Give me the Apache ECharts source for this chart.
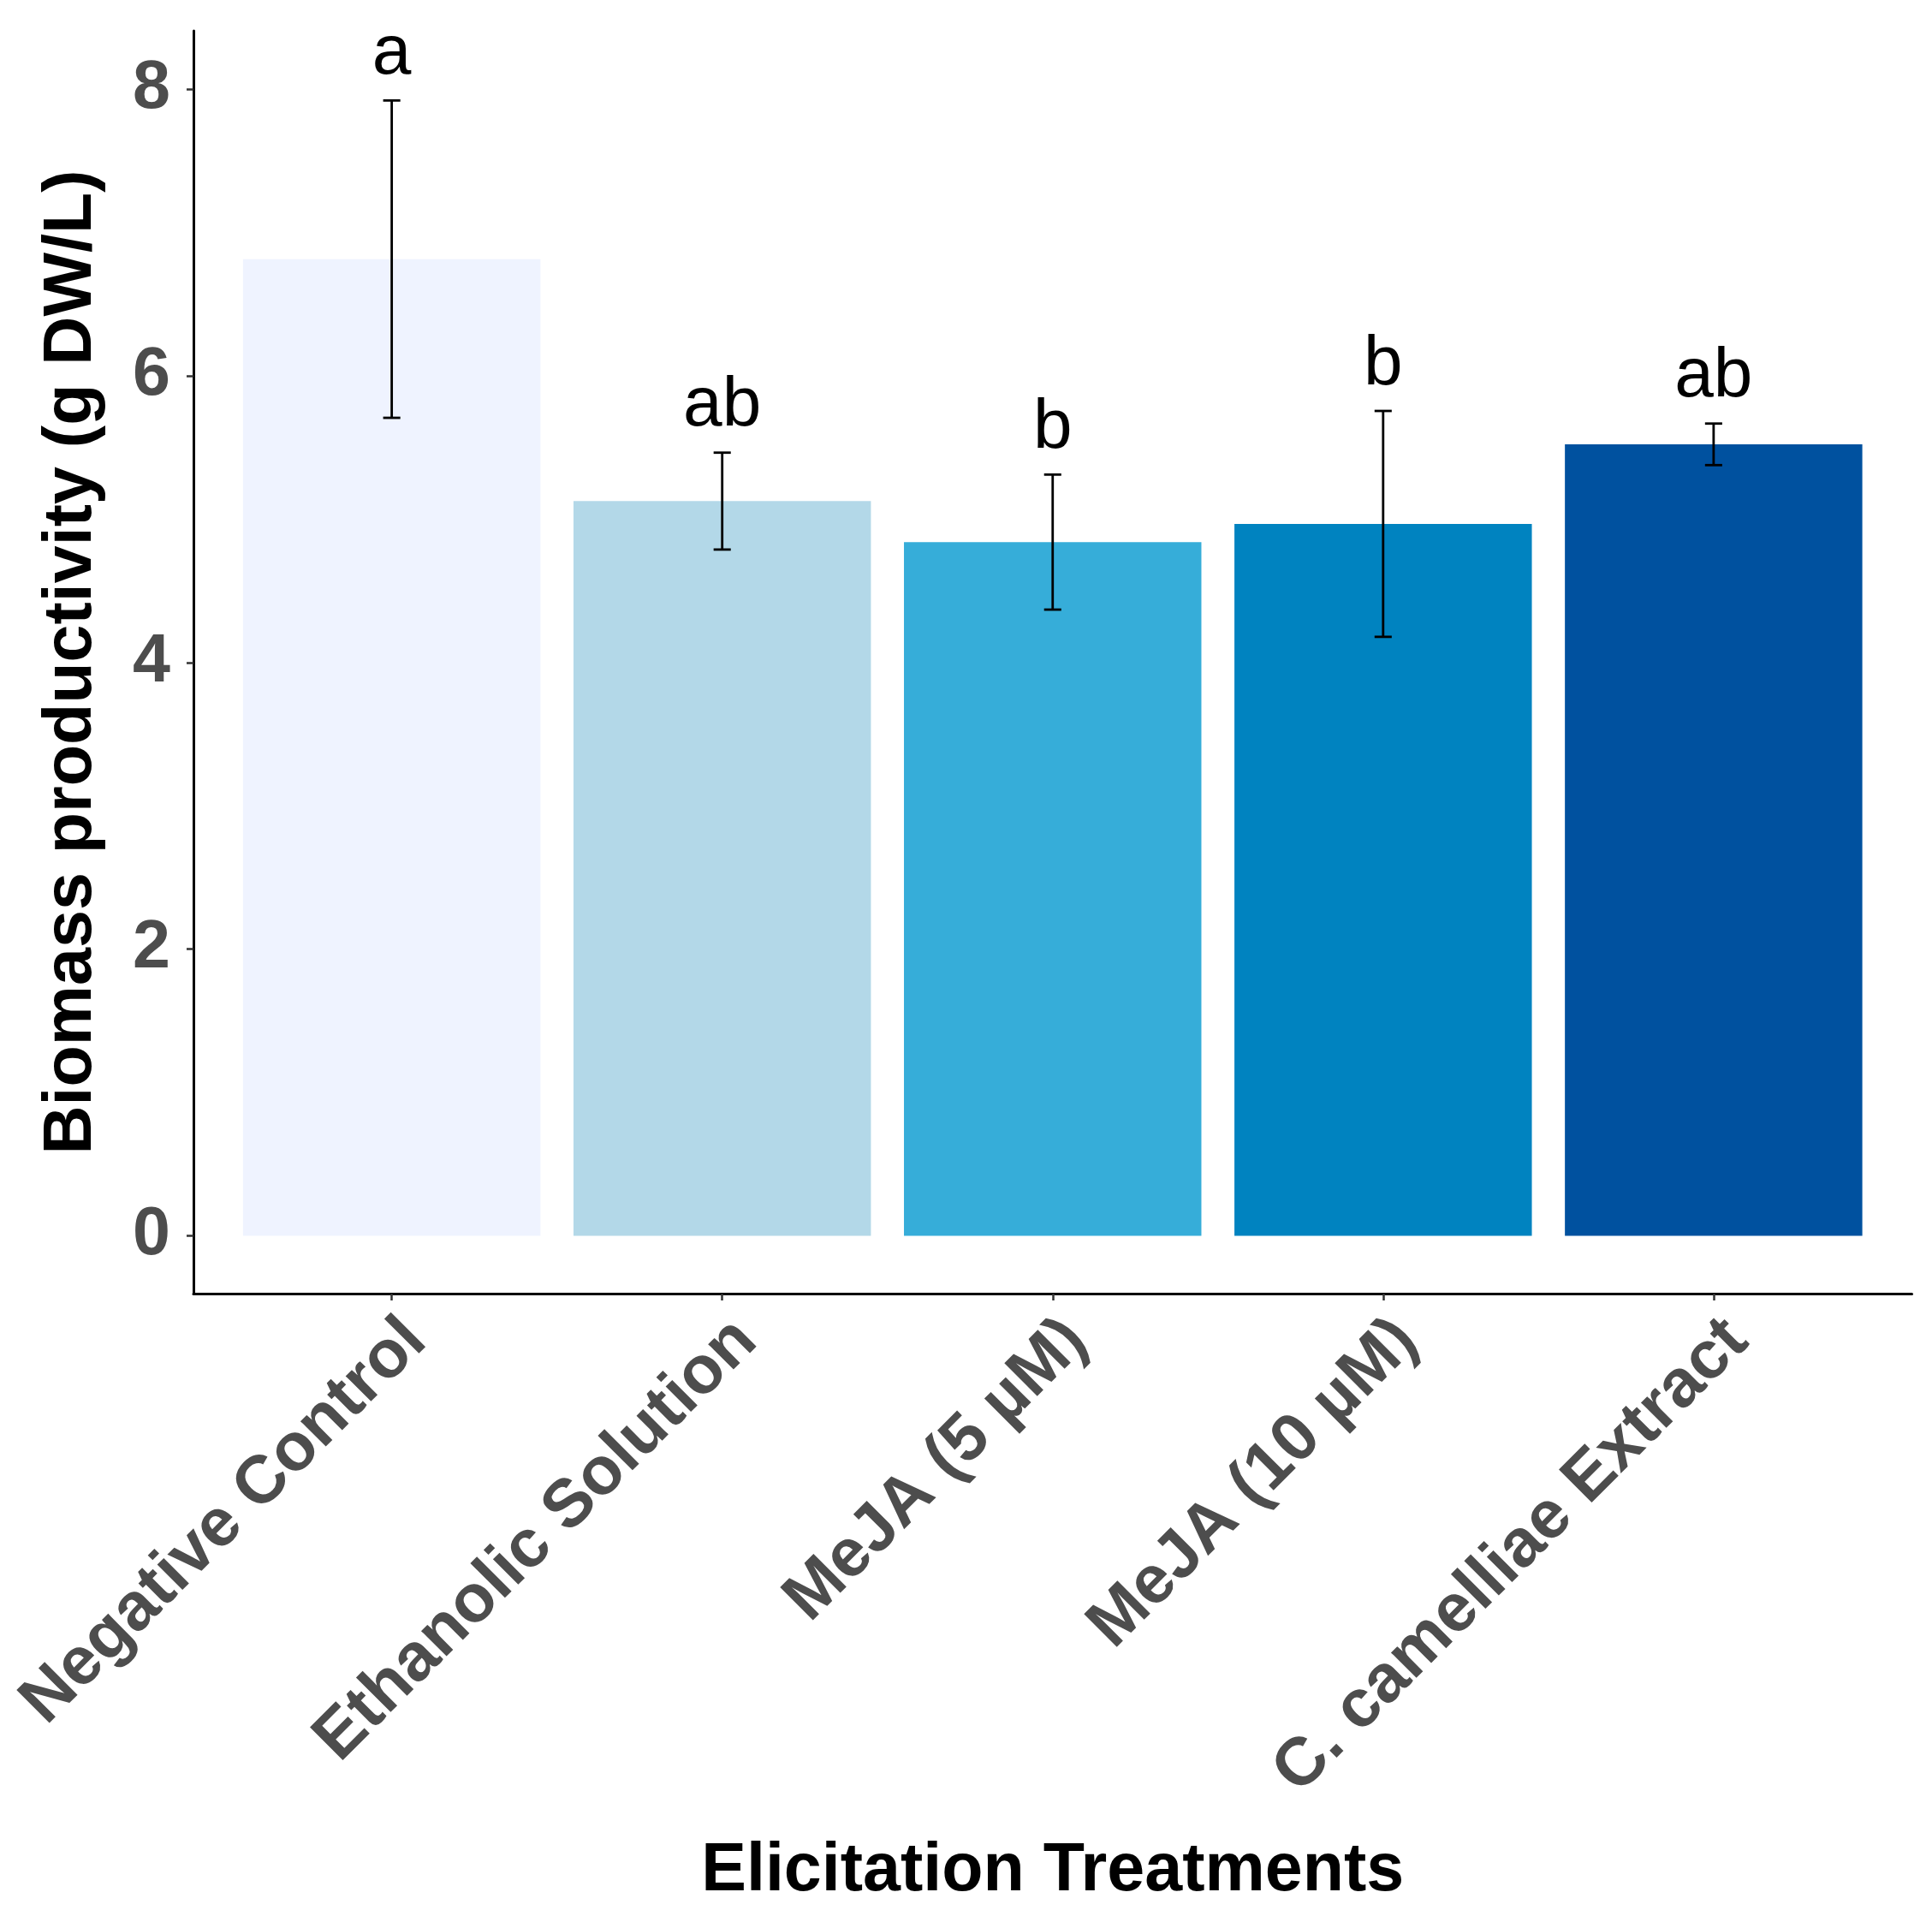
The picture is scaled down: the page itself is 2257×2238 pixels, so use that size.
<!DOCTYPE html>
<html><head><meta charset="utf-8">
<script src="https://cdn.jsdelivr.net/npm/echarts@6/dist/echarts.min.js"></script>
<style>html,body{margin:0;padding:0;background:#fff}#c{width:2257px;height:2238px}</style>
</head><body><div id="c"></div>
<script>
const categories = ["Negative Control", "Ethanolic Solution", "MeJA (5 µM)", "MeJA (10 µM)", "C. camelliae Extract"];
const means = [6.814, 5.126, 4.840, 4.967, 5.522];
const errors = [1.107, 0.338, 0.471, 0.788, 0.145];
const letters = ["a", "ab", "b", "b", "ab"];
const barColors = ["#EFF3FF", "#B3D8E8", "#36ADD9", "#0083C0", "#00519F"];
const yTicks = [0, 2, 4, 6, 8];
const xTicks = [0, 1, 2, 3, 4];

const FONT = "Liberation Sans, Arial, sans-serif";
const FS = 79;
const data = means.map((m, i) => [i, m, errors[i]]);

const chart = echarts.init(document.getElementById('c'), null, {renderer: 'canvas'});
chart.setOption({
  backgroundColor: '#ffffff',
  animation: false,
  grid: {left: 226, right: 23.5, top: 36, bottom: 727, outerBoundsMode: 'none', containLabel: false},
  xAxis: {
    type: 'value', min: -0.6, max: 4.6,
    name: 'Elicitation Treatments', nameLocation: 'middle', nameGap: 636,
    nameTextStyle: {fontFamily: FONT, fontSize: FS, fontWeight: 'bold', color: '#000'},
    axisLine: {show: true, onZero: false, lineStyle: {color: '#000', width: 3}},
    axisTick: {show: true, customValues: xTicks, length: 8, lineStyle: {color: '#333', width: 2.5}},
    axisLabel: {show: true, customValues: xTicks, rotate: 45, margin: 15, verticalAlign: 'top',
      formatter: v => categories[Math.round(v)] || '',
      fontFamily: FONT, fontSize: FS, fontWeight: 'bold', color: '#4D4D4D'},
    splitLine: {show: false}
  },
  yAxis: {
    type: 'value', min: -0.403, max: 8.407,
    name: 'Biomass productivity (g DW/L)', nameLocation: 'middle', nameGap: 102,
    nameTextStyle: {fontFamily: FONT, fontSize: FS, fontWeight: 'bold', color: '#000'},
    axisLine: {show: true, onZero: false, lineStyle: {color: '#000', width: 3}},
    axisTick: {show: true, customValues: yTicks, length: 8, lineStyle: {color: '#333', width: 2.5}},
    axisLabel: {show: true, customValues: yTicks, margin: 27,
      fontFamily: FONT, fontSize: FS, fontWeight: 'bold', color: '#4D4D4D'},
    splitLine: {show: false}
  },
  series: [
    {
      type: 'custom', name: 'bars', data: data, z: 2,
      renderItem: (params, api) => {
        const x = api.value(0), y = api.value(1);
        const p0 = api.coord([x, 0]);
        const p1 = api.coord([x, y]);
        const w = api.size([0.9, 0])[0];
        return {type: 'rect', shape: {x: p0[0] - w / 2, y: p1[1], width: w, height: p0[1] - p1[1]},
          style: {fill: barColors[params.dataIndex]}};
      }
    },
    {
      type: 'custom', name: 'errors', data: data, z: 3,
      renderItem: (params, api) => {
        const x = api.value(0), y = api.value(1), e = api.value(2);
        const top = api.coord([x, y + e]);
        const bot = api.coord([x, y - e]);
        const hw = api.size([0.052, 0])[0] / 2;
        const st = {stroke: '#000', lineWidth: 2.8};
        return {type: 'group', children: [
          {type: 'line', shape: {x1: top[0], y1: top[1], x2: bot[0], y2: bot[1]}, style: st},
          {type: 'line', shape: {x1: top[0] - hw, y1: top[1], x2: top[0] + hw, y2: top[1]}, style: st},
          {type: 'line', shape: {x1: bot[0] - hw, y1: bot[1], x2: bot[0] + hw, y2: bot[1]}, style: st}
        ]};
      }
    },
    {
      type: 'custom', name: 'letters', data: data, z: 4,
      renderItem: (params, api) => {
        const x = api.value(0), y = api.value(1), e = api.value(2);
        const top = api.coord([x, y + e]);
        return {type: 'text', x: top[0], y: top[1] - 13,
          style: {text: letters[params.dataIndex], fontFamily: FONT, fontSize: 82,
            fill: '#000', align: 'center', verticalAlign: 'bottom'}};
      }
    }
  ]
});
</script></body></html>
